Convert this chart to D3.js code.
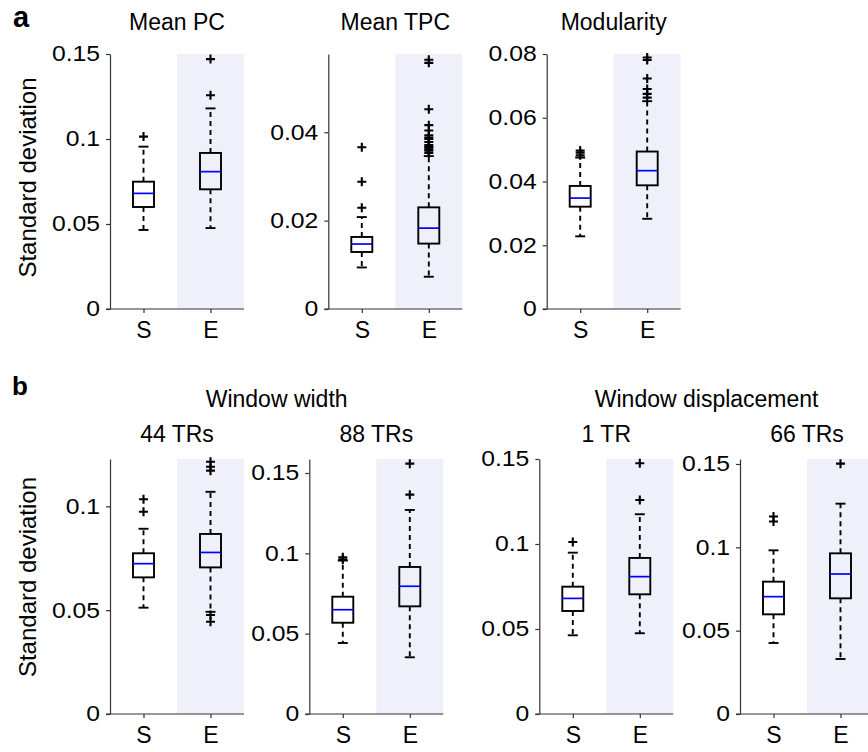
<!DOCTYPE html>
<html><head><meta charset="utf-8">
<script src="https://cdn.jsdelivr.net/npm/d3@7"></script>
<style>
body{margin:0;background:#fff;}
svg text{font-family:"Liberation Sans",Arial,Helvetica,sans-serif;fill:#000;}
</style></head>
<body><svg id="chart" width="868" height="752"></svg>
<script>
// ---- data ----
const panelTitles = ["Mean PC","Mean TPC","Modularity","44 TRs","88 TRs","1 TR","66 TRs"];
const groups = ["S","E"];
const yMax = [0.15, 0.0577, 0.08, 0.1228, 0.1587, 0.15, 0.153];
const yTicks = [
  [0,0.05,0.1,0.15],[0,0.02,0.04],[0,0.02,0.04,0.06,0.08],
  [0,0.05,0.1],[0,0.05,0.1,0.15],[0,0.05,0.1,0.15],[0,0.05,0.1,0.15]];
const yTickLabels = [
  ["0","0.05","0.1","0.15"],["0","0.02","0.04"],["0","0.02","0.04","0.06","0.08"],
  ["0","0.05","0.1"],["0","0.05","0.1","0.15"],["0","0.05","0.1","0.15"],["0","0.05","0.1","0.15"]];
// [S, E] per panel
const lowerWhisker = [[0.0465,0.0476],[0.0094,0.0073],[0.0228,0.0283],[0.0512,0.0492],[0.0442,0.0353],[0.0463,0.0475],[0.0426,0.0330]];
const quartile1    = [[0.0600,0.0704],[0.0129,0.0148],[0.0321,0.0388],[0.0658,0.0706],[0.0568,0.0670],[0.0606,0.0704],[0.0598,0.0694]];
const medians      = [[0.0680,0.0808],[0.0147,0.0183],[0.0348,0.0434],[0.0724,0.0778],[0.0649,0.0795],[0.0680,0.0808],[0.0704,0.0840]];
const quartile3    = [[0.0749,0.0918],[0.0163,0.0230],[0.0386,0.0494],[0.0774,0.0867],[0.0730,0.0915],[0.0749,0.0918],[0.0794,0.0964]];
const upperWhisker = [[0.0955,0.1180],[0.0208,0.0346],[0.0475,0.0652],[0.0892,0.1070],[0.0955,0.1270],[0.0949,0.1175],[0.0982,0.1262]];
const outliersS = [
  [0.1014],
  [0.0229,0.0288,0.0366],
  [0.0482,0.0490,0.0497],
  [0.0974,0.1034],
  [0.0962,0.0975],
  [0.1012],
  [0.1155,0.1185]];
const outliersE = [
  [0.1257,0.147],
  [0.0353,0.0358,0.0361,0.0365,0.0367,0.0371,0.0378,0.0385,0.0388,0.0393,0.0404,0.0416,0.0452,0.0557,0.0564],
  [0.0663,0.0675,0.0690,0.0723,0.0781,0.0789],
  [0.0444,0.0477,0.1172,0.1191,0.1215],
  [0.1365,0.1558],
  [0.1259,0.1475],
  [0.1502]];
const groupHeaders = ["Window width","Window displacement"];
const panelLetters = ["a","b"];

// ---- layout ----
const svg = d3.select("#chart");
const panelLeft = [110, 328.3, 546.7, 110, 309.3, 539.3, 740];
const panelTop  = [54, 54, 54, 459, 459, 459, 459];
const pw = 134, ph = 255;
const axisColor = "#333";
const fontTick = 21.5, fontTitle = 23;
const lw0 = 1.9;

panelTitles.forEach((title, i) => {
  const g = svg.append("g").attr("transform", `translate(${panelLeft[i]},${panelTop[i]})`);
  const x = d3.scaleLinear().domain([0.5, 2.5]).range([0, pw]);
  const y = d3.scaleLinear().domain([0, yMax[i]]).range([ph, 0]);

  // shaded E region
  g.append("rect").attr("x", x(1.5)).attr("y", 0)
    .attr("width", x(2.5) - x(1.5)).attr("height", ph)
    .attr("fill", "#f0f0fa");

  // axes
  const yAxis = d3.axisLeft(y).tickValues(yTicks[i])
    .tickFormat((d, k) => yTickLabels[i][k]).tickSize(4).tickPadding(6).tickSizeOuter(0);
  const ya = g.append("g").call(yAxis);
  ya.select(".domain").attr("stroke", axisColor).attr("stroke-width", 1.2);
  ya.selectAll(".tick line").attr("stroke", axisColor).attr("stroke-width", 1.2);
  ya.selectAll(".tick text").style("font-size", fontTick + "px")
    .style("font-family", '"Liberation Sans",Arial,sans-serif').attr("fill", "#000")
    .attr("x", 0).attr("transform", "translate(-10,0) scale(1.15,1)");

  const xAxis = d3.axisBottom(x).tickValues([1, 2])
    .tickFormat((d) => groups[d - 1]).tickSize(4).tickPadding(9).tickSizeOuter(0);
  const xa = g.append("g").attr("transform", `translate(0,${ph})`).call(xAxis);
  xa.select(".domain").attr("stroke", axisColor).attr("stroke-width", 1.2)
    .attr("d", `M-4,0H${pw}`);
  xa.selectAll(".tick line").attr("stroke", axisColor).attr("stroke-width", 1.2);
  xa.selectAll(".tick text").style("font-size", fontTitle + "px")
    .style("font-family", '"Liberation Sans",Arial,sans-serif').attr("fill", "#000");

  // boxes
  const bw = 10.5, cw = 5;
  groups.forEach((grp, j) => {
    const cx = x(j + 1);
    const lw = lowerWhisker[i][j], q1 = quartile1[i][j], md = medians[i][j],
          q3 = quartile3[i][j], uw = upperWhisker[i][j];
    // whiskers
    g.append("line").attr("x1", cx).attr("x2", cx).attr("y1", y(q3)).attr("y2", y(uw))
      .attr("stroke", "#000").attr("stroke-width", lw0).attr("stroke-dasharray", "5,4");
    g.append("line").attr("x1", cx).attr("x2", cx).attr("y1", y(q1)).attr("y2", y(lw))
      .attr("stroke", "#000").attr("stroke-width", lw0).attr("stroke-dasharray", "5,4");
    [lw, uw].forEach(v => g.append("line").attr("x1", cx - cw).attr("x2", cx + cw)
      .attr("y1", y(v)).attr("y2", y(v)).attr("stroke", "#000").attr("stroke-width", lw0));
    // box
    g.append("rect").attr("x", cx - bw).attr("y", y(q3)).attr("width", 2 * bw)
      .attr("height", y(q1) - y(q3)).attr("fill", "none").attr("stroke", "#000").attr("stroke-width", lw0);
    // median
    g.append("line").attr("x1", cx - bw).attr("x2", cx + bw).attr("y1", y(md)).attr("y2", y(md))
      .attr("stroke", "#0000ff").attr("stroke-width", 1.7);
    // outliers
    const outs = j === 0 ? outliersS[i] : outliersE[i];
    outs.forEach(v => {
      const yy = y(v);
      g.append("path").attr("d", `M${cx - 4.5},${yy}H${cx + 4.5}M${cx},${yy - 4.5}V${yy + 4.5}`)
        .attr("stroke", "#000").attr("stroke-width", 2.1).attr("fill", "none");
    });
  });

  // panel title
  svg.append("text").attr("x", panelLeft[i] + pw / 2)
    .attr("y", i < 3 ? 30 : 441.7).attr("text-anchor", "middle")
    .style("font-size", fontTitle + "px").text(title);
});

// group headers
svg.append("text").attr("x", (panelLeft[3] + panelLeft[4] + pw) / 2).attr("y", 406.7)
  .attr("text-anchor", "middle").style("font-size", fontTitle + "px").text(groupHeaders[0]);
svg.append("text").attr("x", (panelLeft[5] + panelLeft[6] + pw) / 2).attr("y", 406.7)
  .attr("text-anchor", "middle").style("font-size", fontTitle + "px").text(groupHeaders[1]);

// y labels
[177.5, 577].forEach(cy => {
  svg.append("text").attr("transform", `translate(36,${cy}) rotate(-90)`)
    .attr("text-anchor", "middle").style("font-size", "24px").text("Standard deviation");
});

// panel letters
svg.append("text").attr("x", 13).attr("y", 27).style("font-size", "29px").style("font-weight", "bold").text(panelLetters[0]);
svg.append("text").attr("x", 12).attr("y", 395).style("font-size", "26px").style("font-weight", "bold").text(panelLetters[1]);
</script></body></html>
